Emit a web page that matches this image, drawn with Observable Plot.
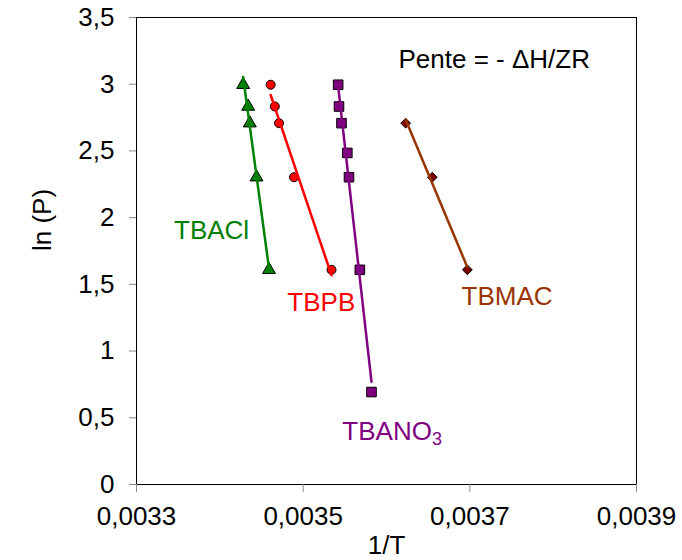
<!DOCTYPE html>
<html>
<head>
<meta charset="utf-8">
<script src="https://cdn.jsdelivr.net/npm/d3@7"></script>
<script src="https://cdn.jsdelivr.net/npm/@observablehq/plot@0.6"></script>
<style>
  html, body { margin: 0; padding: 0; background: #fff; }
  #chart { width: 682px; height: 560px; }
</style>
</head>
<body>
<div id="chart"></div>
<script>
// ---- data ----
const seriesNames = ["TBACl", "TBPB", "TBANO3", "TBMAC"];
const tbaclX = [0.003428, 0.003434, 0.003436, 0.003444, 0.003459];
const tbaclY = [2.996, 2.833, 2.708, 2.303, 1.609];
const tbpbX = [0.003461, 0.003466, 0.003471, 0.003489, 0.003534];
const tbpbY = [2.996, 2.833, 2.708, 2.303, 1.609];
const tbano3X = [0.003542, 0.003543, 0.003546, 0.003553, 0.003555, 0.003568, 0.003582];
const tbano3Y = [2.996, 2.833, 2.708, 2.485, 2.303, 1.609, 0.693];
const tbmacX = [0.003623, 0.003655, 0.003697];
const tbmacY = [2.708, 2.303, 1.609];
const xTicks = [0.0033, 0.0035, 0.0037, 0.0039];
const yTicks = [0, 0.5, 1, 1.5, 2, 2.5, 3, 3.5];
const xTitle = "1/T";
const yTitle = "ln (P)";
const noteText = "Pente = - \u0394H/ZR";
// label anchors in data units
const labelNames = ["TBACl", "TBPB", "TBANO", "TBMAC"];
const labelX = [0.003345, 0.003481, 0.0036545, 0.00369];
const labelY = [1.841, 1.304, 0.335, 1.349];
const noteX = 0.0036144;
const noteY = 3.123;

// ---- styles ----
const styles = {
  TBACl: {fill: "#008000", line: "#008000", symbol: "triangle", r: 4.8},
  TBPB: {fill: "#FF0000", line: "#FF0000", symbol: "circle", r: 4.5},
  TBANO3: {fill: "#800080", line: "#800080", symbol: "square", r: 5.4},
  TBMAC: {fill: "#800000", line: "#993300", symbol: "diamond2", r: 4.4}
};
const labelColors = ["#008000", "#FF0000", "#800080", "#993300"];
const FONT = "'Liberation Sans', Arial, Helvetica, sans-serif";
const FS = 26;

const xs = [tbaclX, tbpbX, tbano3X, tbmacX];
const ys = [tbaclY, tbpbY, tbano3Y, tbmacY];
const tables = seriesNames.map((name, i) => xs[i].map((x, j) => ({series: name, x, y: ys[i][j]})));

const labels = labelNames.map((t, i) => ({t, x: labelX[i], y: labelY[i], c: labelColors[i]}));

const marks = [];
tables.forEach((tbl, i) => {
  const s = styles[seriesNames[i]];
  marks.push(Plot.dot(tbl, {x: "x", y: "y", symbol: () => s.symbol, r: s.r, fill: s.fill, stroke: "black", strokeWidth: 1}));
});
tables.forEach((tbl, i) => {
  const s = styles[seriesNames[i]];
  marks.push(Plot.linearRegressionY(tbl, {x: "x", y: "y", stroke: s.line, strokeWidth: 2.5, ci: 0}));
});

const fmtX = d => d.toFixed(4).replace(".", ",");
const fmtY = d => String(+d.toFixed(1)).replace(".", ",");

const chart = Plot.plot({
  width: 682,
  height: 560,
  marginLeft: 136,
  marginRight: 46,
  marginTop: 17,
  marginBottom: 76,
  style: {fontFamily: FONT, background: "white", color: "black"},
  symbol: {type: "identity"},
  x: {domain: [0.0033, 0.0039], label: null},
  y: {domain: [0, 3.5], label: null},
  marks: [
    ...marks,
    Plot.frame({stroke: "#000", strokeWidth: 1}),
    Plot.axisX({ticks: xTicks, tickFormat: fmtX, tickSize: 8, tickPadding: 14, fontSize: FS, stroke: "#888", label: null, fontFamily: FONT}),
    Plot.axisY({ticks: yTicks, tickFormat: fmtY, tickSize: 7, tickPadding: 15, fontSize: FS, stroke: "#888", label: null, fontFamily: FONT}),
    Plot.text(labels.slice(0, 2).concat(labels.slice(3)), {x: "x", y: "y", text: "t", fill: "c", textAnchor: "start", lineAnchor: "bottom", fontSize: FS, fontFamily: FONT}),
    Plot.text([labels[2]], {x: "x", y: "y", text: "t", fill: "c", textAnchor: "end", lineAnchor: "bottom", fontSize: FS, fontFamily: FONT}),
    Plot.text([labels[2]], {x: "x", y: "y", text: () => "3", fill: "c", textAnchor: "start", lineAnchor: "bottom", dx: 0, dy: 5, fontSize: 18, fontFamily: FONT}),
    Plot.text([noteText], {x: () => noteX, y: () => noteY, text: d => d, fill: "black", textAnchor: "start", lineAnchor: "bottom", fontSize: FS, fontFamily: FONT}),
    Plot.text([xTitle], {frameAnchor: "bottom", text: d => d, dy: 69, lineAnchor: "bottom", fontSize: FS, fontFamily: FONT, fill: "black"}),
    Plot.text([yTitle], {frameAnchor: "left", text: d => d, dx: -86, rotate: -90, lineAnchor: "bottom", fontSize: FS, fontFamily: FONT, fill: "black"})
  ]
});
document.getElementById("chart").appendChild(chart);
</script>
</body>
</html>
